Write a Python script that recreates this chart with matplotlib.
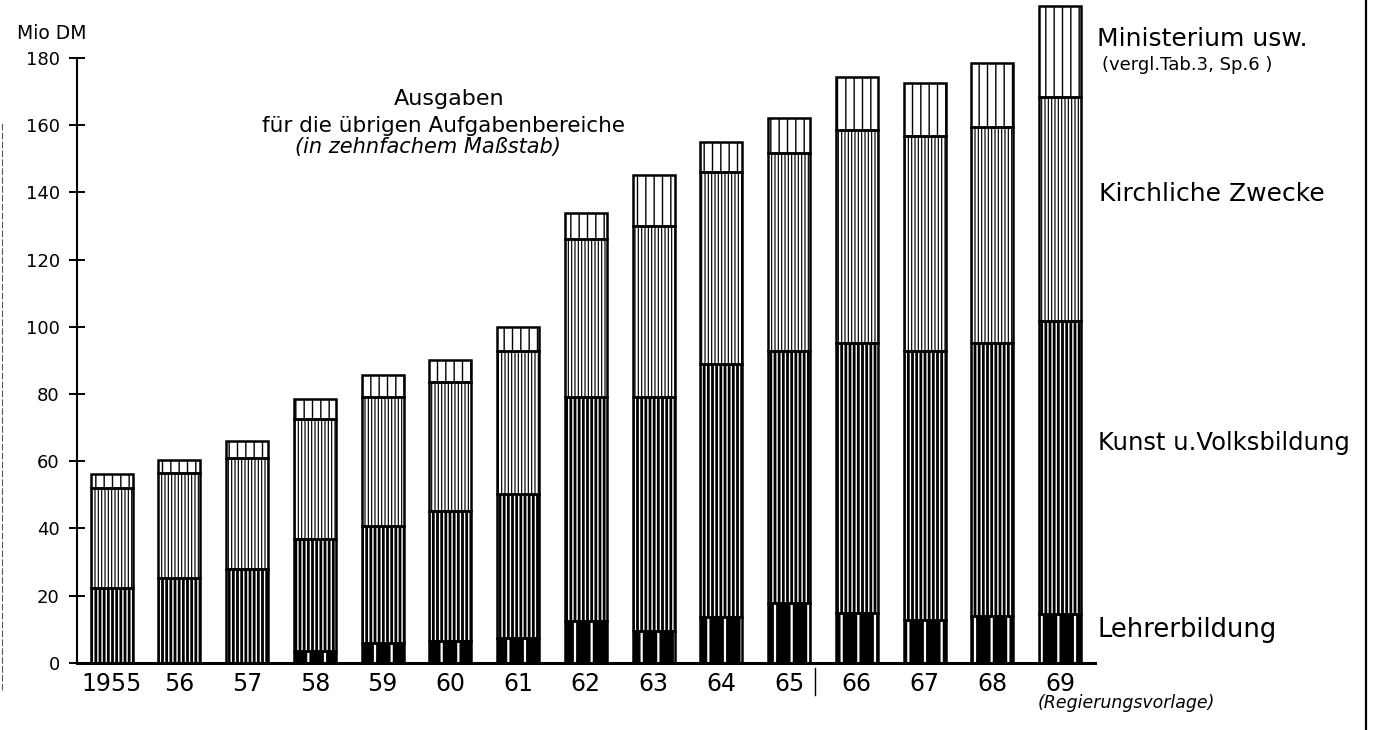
import matplotlib
matplotlib.use("Agg")
import matplotlib.pyplot as plt
import numpy as np
from matplotlib.lines import Line2D

# Ausgaben für die übrigen Aufgabenbereiche, Mio DM
years = ["1955", "56", "57", "58", "59", "60", "61", "62",
         "63", "64", "65", "66", "67", "68", "69"]
lehrerbildung = [0.0, 0.0, 0.0, 3.6, 6.0, 6.4, 7.4, 12.3,
                 9.3, 13.5, 17.7, 14.8, 12.6, 13.8, 14.6]
kunst_volksbildung = [22.3, 25.1, 27.9, 33.2, 34.8, 38.7, 42.8, 66.7,
                      69.9, 75.3, 75.0, 80.4, 80.3, 81.5, 87.2]
kirchliche_zwecke = [29.8, 31.3, 33.1, 35.6, 38.2, 38.6, 42.5, 47.2,
                     50.9, 57.2, 59.1, 63.5, 63.8, 64.1, 66.7]
ministerium = [4.0, 4.0, 5.0, 6.0, 6.6, 6.5, 7.2, 7.8,
               15.2, 9.0, 10.2, 15.5, 15.8, 19.1, 27.1]
yticks = [0, 20, 40, 60, 80, 100, 120, 140, 160, 180]

W, H = 1374, 730
plt.rcParams["font.family"] = ["DejaVu Sans"]
plt.rcParams["hatch.linewidth"] = 1.0

fig = plt.figure(figsize=(W / 100, H / 100), dpi=100)
fig.patch.set_facecolor("white")

# axes placed in pixel terms: y-axis at x=77, baseline at y=662.7
ax_left, ax_right, ax_base = 77, 1095, 662.7
ax = fig.add_axes([ax_left / W, (H - ax_base) / H, (ax_right - ax_left) / W, ax_base / H])
px_per_unit = (ax_base - 58) / 180.0
ax.set_ylim(0, ax_base / px_per_unit)
spacing = 67.7
ax.set_xlim(-(111.7 - ax_left) / spacing, 14 + (ax_right - 1060) / spacing)

x = np.arange(len(years))
bw = 0.62

# (values, facecolor, hatch colour, hatch, hatch lw)
segments = [
    (lehrerbildung, "black", "white", "|", 1.6),
    (kunst_volksbildung, "black", "white", "||||", 1.0),
    (kirchliche_zwecke, "white", "black", "|||||", 0.85),
    (ministerium, "white", "black", "||", 1.0),
]

bottom = np.zeros(len(years))
for vals, fc, hc, hatch, hlw in segments:
    vals = np.asarray(vals)
    bars = ax.bar(x, vals, bw, bottom=bottom, color=fc, edgecolor=hc,
                  hatch=hatch, linewidth=0, zorder=2)
    for p in bars:
        if hasattr(p, "set_hatch_linewidth"):
            p.set_hatch_linewidth(hlw)
    ax.bar(x, vals, bw, bottom=bottom, fill=False, edgecolor="black",
           linewidth=1.8, zorder=3)
    bottom = bottom + vals

# axes styling
for s in ("top", "right"):
    ax.spines[s].set_visible(False)
ax.spines["left"].set_bounds(0, 180)
ax.spines["left"].set_linewidth(1.5)
ax.spines["bottom"].set_linewidth(2.2)
ax.set_yticks(yticks)
ax.set_yticklabels([str(v) for v in yticks], fontsize=13)
ax.tick_params(axis="y", direction="inout", length=11, width=1.4, pad=7)
ax.set_xticks(x)
ax.set_xticklabels(years, fontsize=17)
ax.tick_params(axis="x", length=0, pad=7)
ax.patch.set_alpha(0)


def ftext(px, py, s, **kw):
    fig.text(px / W, 1 - py / H, s, **kw)


ftext(17, 39, "Mio DM", fontsize=13.5, ha="left", va="baseline")

ftext(449, 105, "Ausgaben", fontsize=16, ha="center", va="baseline")
ftext(444, 131.5, "für die übrigen Aufgabenbereiche", fontsize=15.5,
      ha="center", va="baseline")
ftext(428, 153, "(in zehnfachem Maßstab)", fontsize=15, style="italic",
      ha="center", va="baseline")

ftext(1097, 46.5, "Ministerium usw.", fontsize=18, ha="left", va="baseline")
ftext(1102, 70, "(vergl.Tab.3, Sp.6 )", fontsize=13, ha="left", va="baseline")
ftext(1099, 201, "Kirchliche Zwecke", fontsize=18, ha="left", va="baseline")
ftext(1098, 450, "Kunst u.Volksbildung", fontsize=17.5, ha="left", va="baseline")
ftext(1098, 637, "Lehrerbildung", fontsize=18.5, ha="left", va="baseline")
ftext(1126, 708, "(Regierungsvorlage)", fontsize=12.5, style="italic",
      ha="center", va="baseline")

# page border on the right and small marks of the scan
fig.add_artist(Line2D([1366 / W, 1366 / W], [0, 1], color="black", lw=1.6))
fig.add_artist(Line2D([1.5 / W, 1.5 / W], [1 - 690 / H, 1 - 123 / H],
                      color="0.35", lw=0.8, ls=(0, (6, 2))))
fig.add_artist(Line2D([815 / W, 815 / W], [1 - 695 / H, 1 - 668 / H],
                      color="black", lw=1.0))

fig.savefig("out.png", dpi=100, facecolor="white")
